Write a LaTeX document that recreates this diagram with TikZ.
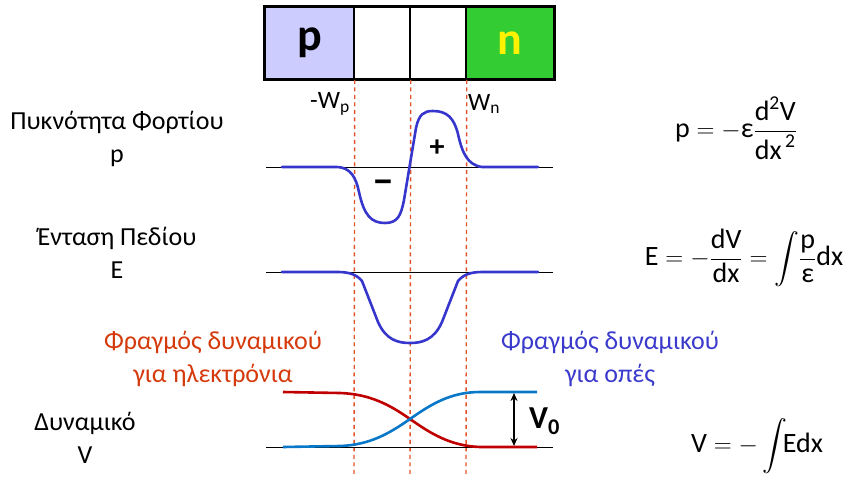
\documentclass[tikz,border=0pt]{standalone}
\usepackage{amsmath}
\usepackage{fontspec}
\setmainfont{Carlito}
\usetikzlibrary{arrows.meta}
\definecolor{plow}{HTML}{CCCCFF}
\definecolor{ngreen}{HTML}{33CC33}
\definecolor{dashc}{HTML}{E0532B}
\definecolor{curveb}{HTML}{3636CC}
\definecolor{vred}{HTML}{C00000}
\definecolor{vblue}{HTML}{0A78C8}
\definecolor{tred}{HTML}{D43A0C}
\definecolor{tblue}{HTML}{3A3ACC}
\tikzset{
  cell/.style={draw=black, line width=1.5pt, minimum height=72pt, inner sep=0pt, anchor=center},
  dashline/.style={dashc, line width=1.4pt, dash pattern=on 4pt off 3.5pt},
  axisline/.style={black, line width=1pt},
  curve/.style={curveb, line width=2.6pt, line join=round, line cap=round},
  lbl/.style={font=\fontsize{26}{33}\selectfont, align=center, inner sep=0pt},
  frm/.style={font=\fontsize{28}{32}\selectfont, inner sep=0pt},
}
\begin{document}
\begin{tikzpicture}[x=1pt,y=-1pt]
\useasboundingbox (0,0) rectangle (851,477);
% box
\node[cell, fill=plow, minimum width=89pt] (cp) at (309.5,43) {\fontsize{46}{46}\selectfont\bfseries p};
\node[cell, fill=white, minimum width=56pt] (c1) at (382,43) {};
\node[cell, fill=white, minimum width=56pt] (c2) at (438,43) {};
\node[cell, fill=ngreen, minimum width=88pt] (cn) at (510,43) {\fontsize{46}{46}\selectfont\bfseries\color{yellow}n};
\draw[line width=2pt] (cp.north west) rectangle (cn.south east);
% dashed lines
\coordinate (d1) at (354,477);
\coordinate (d2) at (410,477);
\coordinate (d3) at (466,477);
\draw[dashline] (cp.south east) -- (d1);
\draw[dashline] (c1.south east) -- (d2);
\draw[dashline] (c2.south east) -- (d3);
% W labels
\node[font=\fontsize{25}{25}\selectfont, anchor=east, inner sep=0pt] (wp) at (350,104) {-W\textsubscript{p}};
\node[font=\fontsize{25}{25}\selectfont, anchor=west, inner sep=0pt] (wn) at (468,104) {W\textsubscript{n}};
% left labels
\node[lbl] (lrho) at (117,138.5) {Πυκνότητα Φορτίου\\p};
\node[lbl] (lfield) at (117,252.5) {Ένταση Πεδίου\\E};
\node[lbl] (lpot) at (85,438) {Δυναμικό\\V};
\node[lbl, text=tred] (lred) at (213,358.5) {Φραγμός δυναμικού\\για ηλεκτρόνια};
\node[lbl, text=tblue] (lblue) at (610,358.5) {Φραγμός δυναμικού\\για οπές};
% axes
\coordinate (a1l) at (266,167); \coordinate (a1r) at (553,167);
\coordinate (a2l) at (266,272); \coordinate (a2r) at (553,272);
\coordinate (a3l) at (266,447); \coordinate (a3r) at (553,447);
\draw[axisline] (a1l) -- (a1r);
\draw[axisline] (a2l) -- (a2r);
\draw[axisline] (a3l) -- (a3r);
% charge density
\draw[curve] (282,167) -- (336,167)
  .. controls (351,167) and (356,178) .. (359,192)
  .. controls (364,215) and (371,223) .. (385,223)
  .. controls (398,223) and (401,215) .. (404,200)
  -- (416,128)
  .. controls (419,114) and (424,111) .. (433,111)
  .. controls (447,111) and (454,118) .. (458,134)
  .. controls (462,152) and (467,165) .. (482,167)
  -- (538,167);
\node[font=\fontsize{40}{40}\selectfont\bfseries, inner sep=0pt] (minus) at (383,187) {−};
\node[font=\fontsize{30}{30}\selectfont\bfseries, inner sep=0pt] (plus) at (437,148) {+};
% field
\draw[curve] (282,272) -- (338,272)
  .. controls (350,272) and (357,275) .. (362,281)
  -- (378,322)
  .. controls (386,340) and (398,343) .. (410,343)
  .. controls (422,343) and (434,340) .. (442,322)
  -- (458,281)
  .. controls (463,275) and (470,272) .. (482,272)
  -- (538,272);
% potential
\draw[vred, line width=2.6pt] (283,392) -- (340,393)
  .. controls (370,394) and (390,405) .. (410,419)
  .. controls (430,433) and (450,446) .. (480,447) -- (537,447);
\draw[vblue, line width=2.6pt] (283,447) -- (340,446)
  .. controls (370,445) and (390,433) .. (410,419)
  .. controls (430,405) and (450,392) .. (480,392) -- (537,392);
\coordinate (v0t) at (514,393);
\coordinate (v0b) at (514,446);
\draw[black, line width=1.6pt, {Stealth[length=8pt,width=7pt]}-{Stealth[length=8pt,width=7pt]}] (v0t) -- (v0b);
\node[font=\fontsize{32}{32}\selectfont\bfseries, anchor=west, inner sep=0pt] (v0) at (529,421) {V\textsubscript{0}};
% formulas
\node[frm] (f1) at (736,128) {$\text{p} = -\text{ε}\dfrac{\text{d}^{\text{2}}\text{V}}{\text{dx}^{\,\text{2}}}$};
\node[frm] (f2) at (744,258) {$\text{E} = -\dfrac{\text{dV}}{\text{dx}} = \displaystyle\int\!\dfrac{\text{p}}{\text{ε}}\text{dx}$};
\node[frm] (f3) at (757,446) {$\text{V} = -\displaystyle\int\!\!\text{Edx}$};
\end{tikzpicture}
\end{document}
